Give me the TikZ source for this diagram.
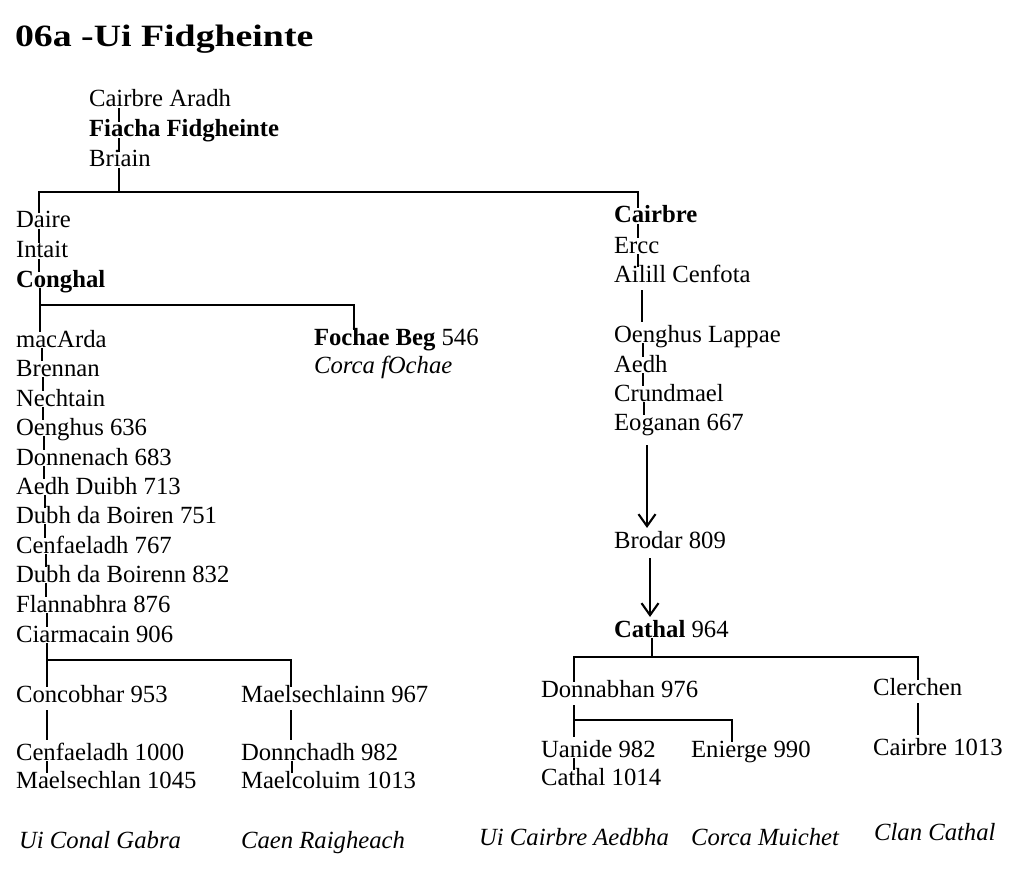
\documentclass[tikz,border=0pt]{standalone}
\usepackage{fontspec}
\setmainfont{Liberation Serif}
\usepackage{tikz}
\usetikzlibrary{arrows.meta}
\tikzset{
    gen/.style = {anchor=base west, inner sep=0pt, text height=14pt, text depth=0pt},
    sept/.style = {anchor=base west, inner sep=0pt, font=\fontsize{24.7pt}{29.5pt}\selectfont\itshape},
}

\begin{document}
\begin{tikzpicture}[
	x=1pt, y=-1pt,
	line width=2.1pt,
	font=\fontsize{24.7pt}{29.5pt}\selectfont
]
\tikzset{
    edgen/.style = {-},
    edgeg/.style = {-, shorten <=7pt, shorten >=5pt},
    edgea/.style = {-{Straight Barb[length=12pt,width=17pt,line width=2.1pt]}, shorten <=14pt, shorten >=5pt},
}
\useasboundingbox (0,0) rectangle (1035,877);
\node[anchor=base west, inner sep=0pt, font=\fontsize{31pt}{36pt}\selectfont\bfseries] at (14,47) (title) {\scalebox{1.22}[1]{06a -Ui Fidgheinte}};
%
\node[gen] at (88,107) (cairbrea) {Cairbre Aradh};
\node[gen] at (88,137) (fiacha) {\textbf{Fiacha Fidgheinte}};
\node[gen] at (88,167) (briain) {Briain};
\coordinate (bartop) at (119,192);
%
\node[gen] at (15,228) (daire) {Daire};
\node[gen] at (15,258) (intait) {Intait};
\node[gen] at (15,287) (conghal) {\textbf{Conghal}};
\coordinate (barconghal) at (40,305);
\node[gen] at (313,345) (fochae) {\textbf{Fochae Beg} 546};
\node[sept] at (313,373) (corcaf) {Corca fOchae};
\node[gen] at (15,347) (macarda) {macArda};
\node[gen] at (15,376) (brennan) {Brennan};
\node[gen] at (15,406) (nechtain) {Nechtain};
\node[gen] at (15,435) (oenghus) {Oenghus 636};
\node[gen] at (15,465) (donnenach) {Donnenach 683};
\node[gen] at (15,494) (aedhd) {Aedh Duibh 713};
\node[gen] at (15,523) (dubha) {Dubh da Boiren 751};
\node[gen] at (15,553) (cenfa) {Cenfaeladh 767};
\node[gen] at (15,582) (dubhb) {Dubh da Boirenn 832};
\node[gen] at (15,612) (flann) {Flannabhra 876};
\node[gen] at (15,642) (ciarm) {Ciarmacain 906};
\coordinate (barciarm) at (47,660);
\node[gen] at (15,702) (concob) {Concobhar 953};
\node[gen] at (240,702) (maelsa) {Maelsechlainn 967};
\node[gen] at (15,760) (cenfb) {Cenfaeladh 1000};
\node[gen] at (15,788) (maelsb) {Maelsechlan 1045};
\node[gen] at (240,760) (donnch) {Donnchadh 982};
\node[gen] at (240,788) (maelc) {Maelcoluim 1013};
%
\node[gen] at (613,223) (cairbre) {\textbf{Cairbre}};
\node[gen] at (613,253) (ercc) {Ercc};
\node[gen] at (613,282) (ailill) {Ailill Cenfota};
\node[gen] at (613,342) (oenghusl) {Oenghus Lappae};
\node[gen] at (613,372) (aedh) {Aedh};
\node[gen] at (613,401) (crund) {Crundmael};
\node[gen] at (613,430) (eoganan) {Eoganan 667};
\node[gen] at (613,548) (brodar) {Brodar 809};
\node[gen] at (613,637) (cathal) {\textbf{Cathal} 964};
\coordinate (barcathal) at (652,657);
\node[gen] at (540,697) (donnab) {Donnabhan 976};
\node[gen] at (872,695) (clerchen) {Clerchen};
\coordinate (bardonn) at (574,720);
\node[gen] at (540,757) (uanide) {Uanide 982};
\node[gen] at (690,757) (enierge) {Enierge 990};
\node[gen] at (540,785) (cathalb) {Cathal 1014};
\node[gen] at (872,755) (cairbreb) {Cairbre 1013};
%
\node[sept] at (18,848) (uiconal) {Ui Conal Gabra};
\node[sept] at (240,848) (caen) {Caen Raigheach};
\node[sept] at (478,845) (uicairbre) {Ui Cairbre Aedbha};
\node[sept] at (690,845) (corcam) {Corca Muichet};
\node[sept] at (873,840) (clan) {Clan Cathal};
%
\draw[edgen] ([xshift=31pt]cairbrea.south west) -- ([xshift=31pt]fiacha.north west);
\draw[edgen] ([xshift=31pt]fiacha.south west) -- ([xshift=31pt]briain.north west);
\draw[edgen] ([xshift=31pt]briain.south west) -- (bartop);
\draw[edgen] ([xshift=24pt]daire.north west) |- (bartop) -| ([xshift=25pt]cairbre.north west);
%
\draw[edgen] ([xshift=24pt]daire.south west) -- ([xshift=24pt]intait.north west);
\draw[edgen] ([xshift=24pt]intait.south west) -- ([xshift=24pt]conghal.north west);
\draw[edgen] ([xshift=25pt]conghal.south west) -- ([xshift=25pt]macarda.north west);
\draw[edgen] (barconghal) -| ([xshift=41pt]fochae.north west);
%
\draw[edgen] ([xshift=27pt]macarda.south west) -- ([xshift=27pt]brennan.north west);
\draw[edgen] ([xshift=28pt]brennan.south west) -- ([xshift=28pt]nechtain.north west);
\draw[edgen] ([xshift=28pt]nechtain.south west) -- ([xshift=28pt]oenghus.north west);
\draw[edgen] ([xshift=29pt]oenghus.south west) -- ([xshift=29pt]donnenach.north west);
\draw[edgen] ([xshift=29pt]donnenach.south west) -- ([xshift=29pt]aedhd.north west);
\draw[edgen] ([xshift=30pt]aedhd.south west) -- ([xshift=30pt]dubha.north west);
\draw[edgen] ([xshift=30pt]dubha.south west) -- ([xshift=30pt]cenfa.north west);
\draw[edgen] ([xshift=31pt]cenfa.south west) -- ([xshift=31pt]dubhb.north west);
\draw[edgen] ([xshift=31pt]dubhb.south west) -- ([xshift=31pt]flann.north west);
\draw[edgen] ([xshift=32pt]flann.south west) -- ([xshift=32pt]ciarm.north west);
\draw[edgen] ([xshift=32pt]ciarm.south west) -- ([xshift=32pt]concob.north west);
\draw[edgen] (barciarm) -| ([xshift=51pt]maelsa.north west);
%
\draw[edgeg] ([xshift=32pt]concob.south west) -- ([xshift=32pt]cenfb.north west);
\draw[edgen] ([xshift=32pt]cenfb.south west) -- ([xshift=32pt]maelsb.north west);
\draw[edgeg] ([xshift=51pt]maelsa.south west) -- ([xshift=51pt]donnch.north west);
\draw[edgen] ([xshift=52pt]donnch.south west) -- ([xshift=52pt]maelc.north west);
%
\draw[edgen] ([xshift=25pt]cairbre.south west) -- ([xshift=25pt]ercc.north west);
\draw[edgen] ([xshift=25pt]ercc.south west) -- ([xshift=25pt]ailill.north west);
\draw[edgeg] ([xshift=29pt]ailill.south west) -- ([xshift=29pt]oenghusl.north west);
\draw[edgen] ([xshift=30pt]oenghusl.south west) -- ([xshift=30pt]aedh.north west);
\draw[edgen] ([xshift=30pt]aedh.south west) -- ([xshift=30pt]crund.north west);
\draw[edgen] ([xshift=31pt]crund.south west) -- ([xshift=31pt]eoganan.north west);
\draw[edgea] ([xshift=34pt]eoganan.south west) -- ([xshift=34pt]brodar.north west);
\draw[edgea, shorten <=9pt] ([xshift=37pt]brodar.south west) -- ([xshift=37pt]cathal.north west);
%
\draw[edgen] ([xshift=39pt]cathal.south west) -- (barcathal);
\draw[edgen] ([xshift=34pt]donnab.north west) |- (barcathal) -| ([xshift=46pt]clerchen.north west);
\draw[edgeg] ([xshift=34pt]donnab.south west) -- ([xshift=34pt]uanide.north west);
\draw[edgen] (bardonn) -| ([xshift=42pt]enierge.north west);
\draw[edgen] ([xshift=34pt]uanide.south west) -- ([xshift=34pt]cathalb.north west);
\draw[edgeg] ([xshift=46pt]clerchen.south west) -- ([xshift=46pt]cairbreb.north west);
\end{tikzpicture}
\end{document}
